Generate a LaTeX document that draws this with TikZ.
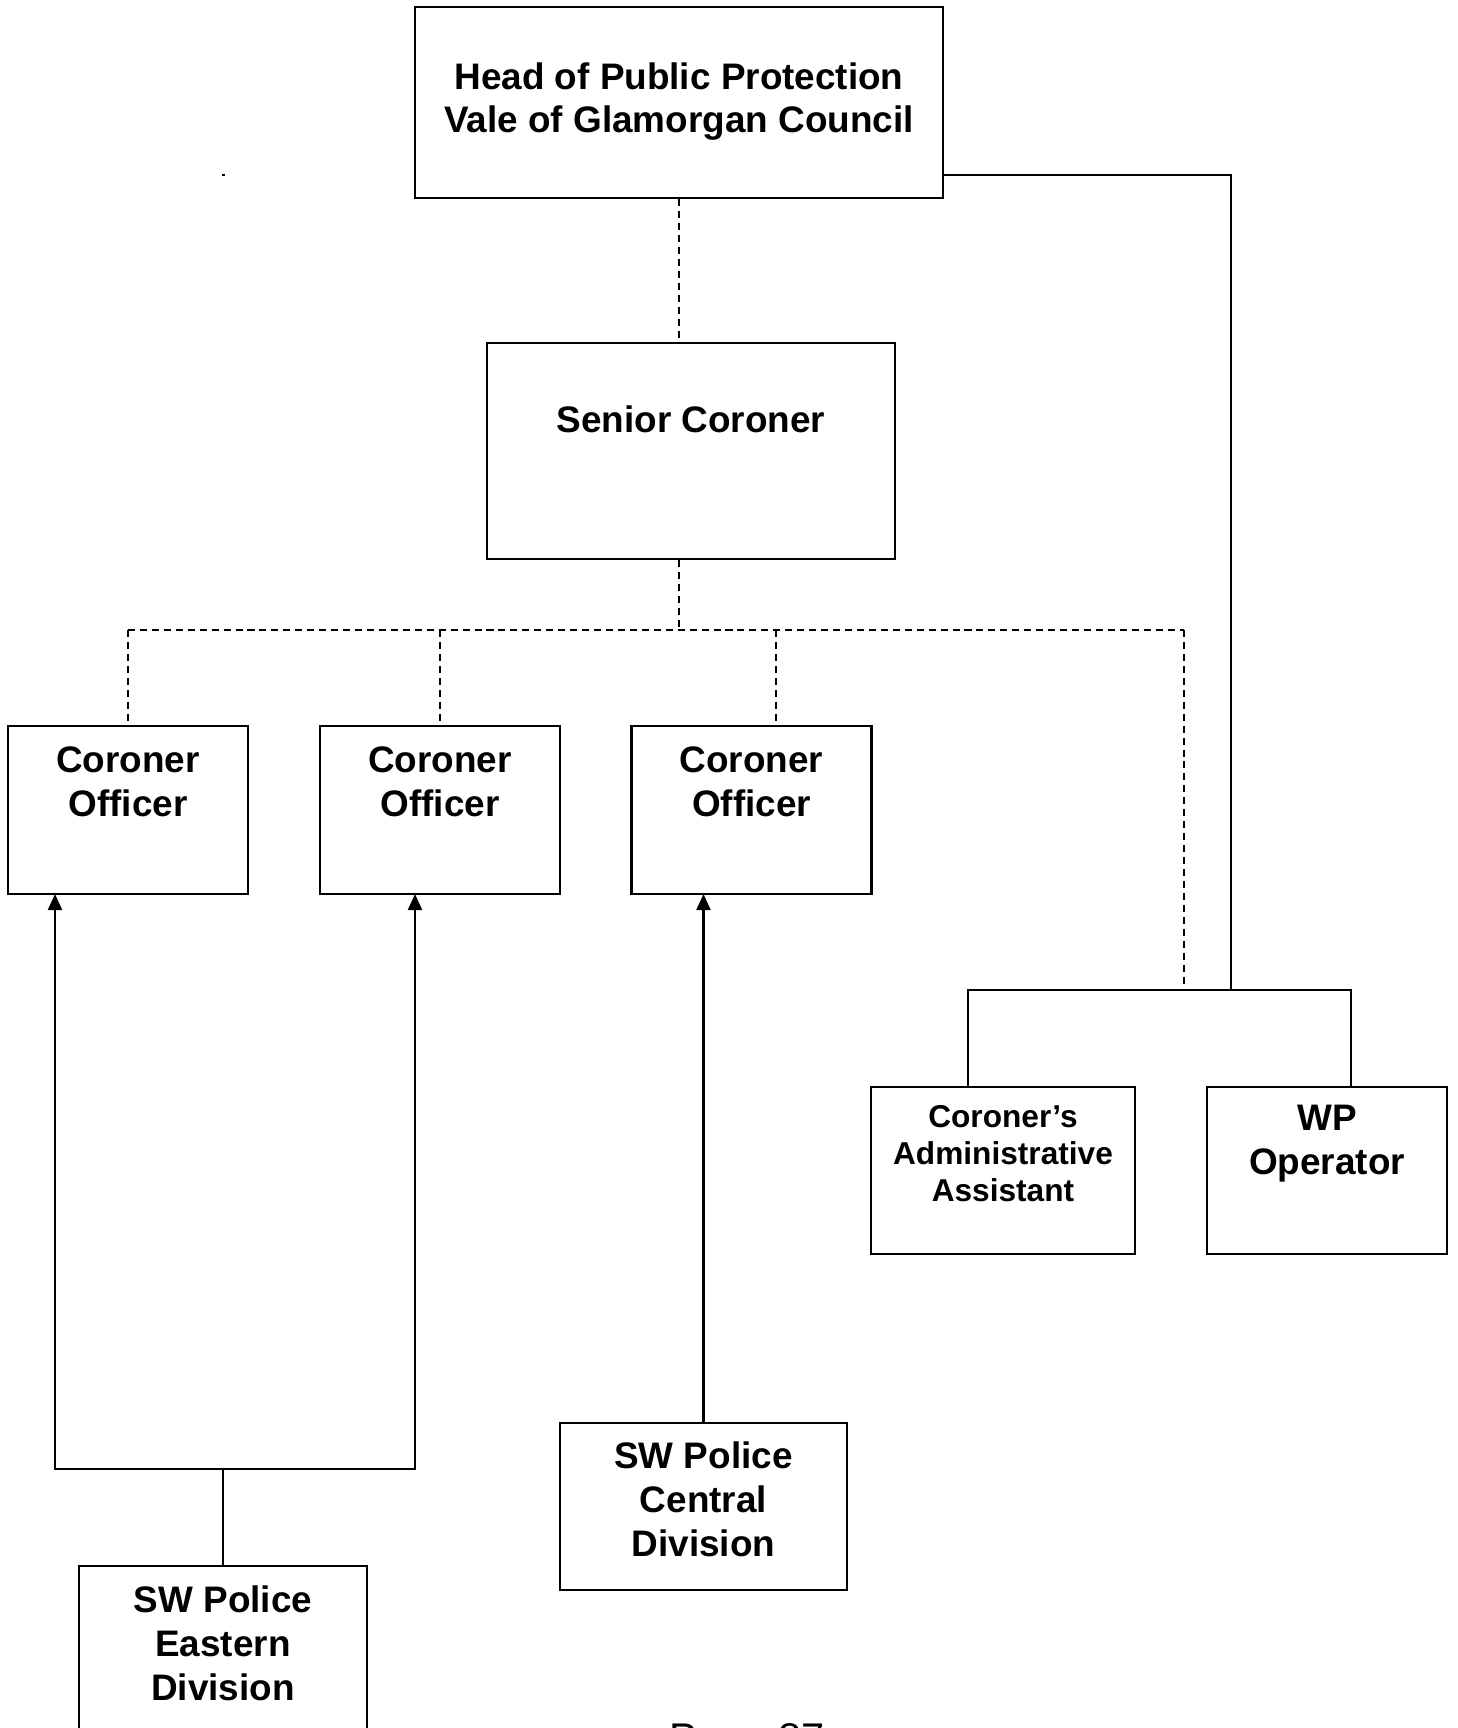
\documentclass[tikz,border=0pt]{standalone}
\usepackage{fontspec}
\setmainfont{Liberation Sans}
\usetikzlibrary{arrows.meta, calc, positioning}

\begin{document}
\begin{tikzpicture}[
    box/.style={draw, rectangle, line width=0.6pt},
    txt/.style={align=center, font=\bfseries\fontsize{10.5}{12.5}\selectfont},
    smalltxt/.style={align=center, font=\bfseries\fontsize{9}{10.5}\selectfont},
    dsh/.style={dash pattern=on 2pt off 1.4pt, line width=0.5pt},
    ln/.style={line width=0.6pt},
    arr/.style={line width=0.6pt, -{Triangle[length=1.6mm,width=1.4mm]}}
  ]
  \useasboundingbox (0,0) rectangle (14.58,-17.28);

  % boxes
  \node[box, minimum width=5.28cm, minimum height=1.91cm] (head) at (6.79,-1.025) {};
  \node[txt] (headtxt) at ($(head)+(0,0.01)$)
    {Head of Public Protection\\Vale of Glamorgan Council};

  \node[box, minimum width=4.08cm, minimum height=2.16cm] (senior) at (6.91,-4.51) {};
  \node[txt] (seniortxt) at ($(senior)+(0,0.32)$) {Senior Coroner};

  \node[box, minimum width=2.40cm, minimum height=1.68cm] (co1) at (1.28,-8.10) {};
  \node[box, minimum width=2.40cm, minimum height=1.68cm] (co2) at (4.40,-8.10) {};
  \node[box, minimum width=2.40cm, minimum height=1.68cm] (co3) at (7.515,-8.10) {};
  \foreach \c in {co1,co2,co3}
    \node[txt] (\c txt) at ($(\c)+(0,0.28)$) {Coroner\\Officer};

  \node[box, minimum width=2.64cm, minimum height=1.67cm] (admin) at (10.03,-11.705) {};
  \node[smalltxt] (admintxt) at ($(admin)+(0,0.17)$)
    {Coroner’s\\Administrative\\Assistant};
  \node[box, minimum width=2.40cm, minimum height=1.67cm] (wp) at (13.27,-11.705) {};
  \node[txt] (wptxt) at ($(wp)+(0,0.27)$) {WP\\Operator};

  \node[box, minimum width=2.87cm, minimum height=1.67cm] (central) at (7.035,-15.065) {};
  \node[txt] (centraltxt) at ($(central)+(0,0.07)$) {SW Police\\Central\\Division};

  \node[box, minimum width=2.88cm, minimum height=1.67cm] (eastern) at (2.23,-16.495) {};
  \node[txt] (easterntxt) at ($(eastern)+(0,0.065)$) {SW Police\\Eastern\\Division};

  \node[font=\fontsize{11.8}{14}\selectfont, anchor=base] (page) at (7.47,-17.52) {Page 87};

  % joints
  \coordinate (split) at (6.79,-6.30);
  \coordinate (bar) at (12.31,-9.90);
  \coordinate (fork) at (2.23,-14.69);

  % dashed lines of the coroner
  \draw[dsh] (head.south) -- (head.south |- senior.north);
  \draw[dsh] (split |- senior.south) -- (split);
  \draw[dsh] (1.28,-6.30) -- (11.84,-6.30);
  \draw[dsh] (1.28,-6.30) -- (1.28,-7.22);
  \draw[dsh] (4.40,-6.30) -- (4.40,-7.22);
  \draw[dsh] (7.76,-6.30) -- (7.76,-7.22);
  \draw[dsh] (11.84,-6.30) -- (11.84,-9.90);

  % council line
  \draw[ln] ($(head.south east)+(0,0.24)$) -| (bar);
  \draw[ln] (9.68,-10.87) -- (9.68,-9.90) -- (13.51,-9.90) -- (13.51,-10.87);

  % police
  \draw[ln] (eastern.north) -- (fork);
  \draw[arr] (fork) -| (0.55,-8.94);
  \draw[arr] (fork) -| (4.15,-8.94);
  \draw[arr] (central.north) -- (7.035,-8.94);

  \fill (2.22,-1.735) rectangle (2.25,-1.755);
\end{tikzpicture}
\end{document}
